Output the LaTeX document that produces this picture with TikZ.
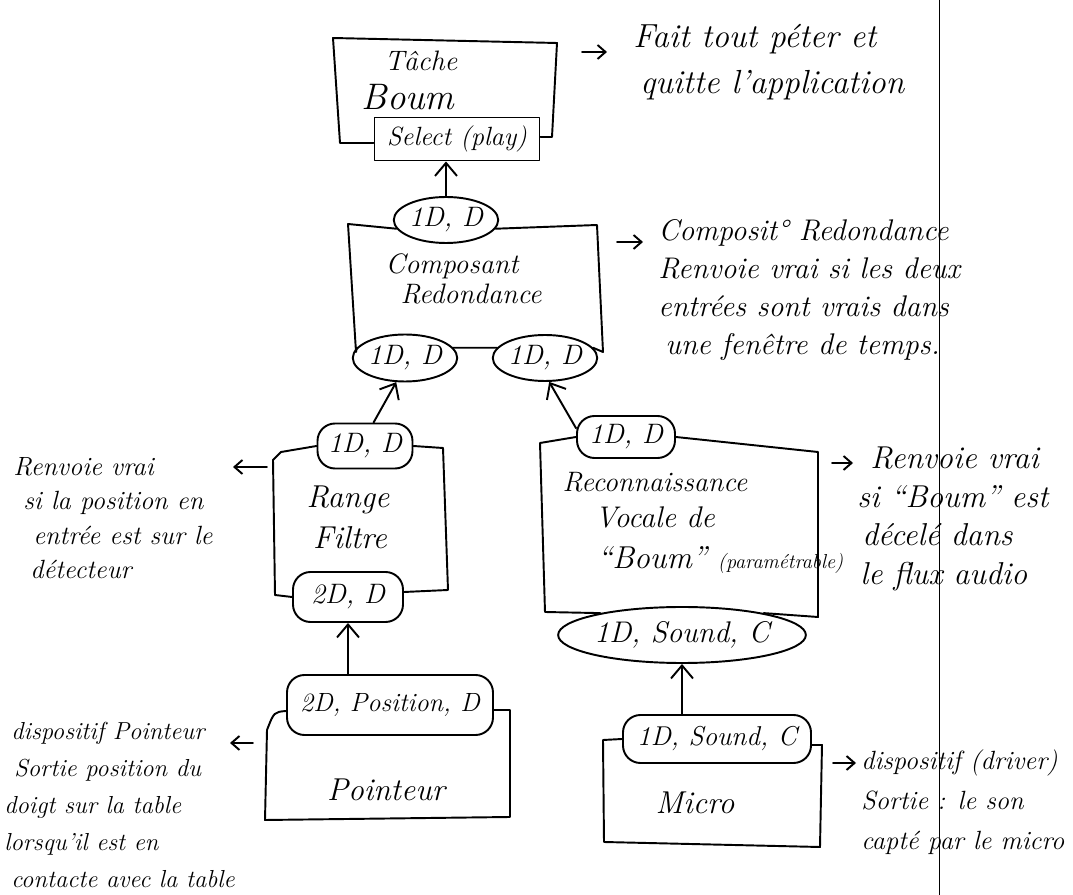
\documentclass[tikz,border=0pt]{standalone}
\usetikzlibrary{shapes.geometric,arrows.meta,calc}
\newcommand\hwf[2]{\fontsize{#1}{#2}\selectfont\itshape}
\begin{document}
\begin{tikzpicture}[x=0.2mm,y=-0.2mm,
  hw/.style={line width=1.1pt,line join=round,line cap=round},
  eport/.style={draw,hw,ellipse,inner sep=0pt,font=\hwf{16}{19}},
  sport/.style={draw,hw,rectangle,rounded corners=3.5mm,inner sep=0pt,font=\hwf{16}{19}},
  conn/.style={hw,-{Straight Barb[length=2.6mm,width=4.4mm]}},
  sconn/.style={hw,-{Straight Barb[length=1.6mm,width=2.8mm]}},
  txt/.style={inner sep=0pt,align=center},
  note/.style={inner sep=0pt,align=left,anchor=west},
]
\useasboundingbox (0,0) rectangle (1073,895);

% page edge line
\draw[line width=0.5pt] (939,0) -- (939,895);

% ---------------- Tache Boum
\node[draw,hw,rectangle,minimum width=33mm,minimum height=8.6mm,inner sep=0pt,font=\hwf{15}{18}] (sel) at (457,139) {Select (play)};
\node[txt,font=\hwf{16}{19}] (tache) at (421,61) {Tâche};
\node[txt,font=\hwf{21}{25}] (boum) at (408,97) {Boum};
\draw[hw] ($(sel.west)+(0,4)$) -- (340,143) -- (333,38) -- (557,43) -- (552,137) -- ($(sel.east)+(0,-2)$);

\coordinate (a1s) at (582,52);
\coordinate (a1e) at (607,52);
\draw[sconn] (a1s) -- (a1e);
\node[note,font=\hwf{19}{26}] (n1) at (633,62) {Fait tout péter et\\\hspace*{1.4mm}quitte l'application};

% ---------------- Composant Redondance
\node[eport,minimum width=18.6mm,minimum height=9.2mm] (cp) at (446,220) {1D, D};
\node[eport,minimum width=18.8mm,minimum height=9.4mm] (cl) at (405,358) {1D, D};
\node[eport,minimum width=17mm,minimum height=9.2mm] (cr) at (545,358) {1D, D};
\node[txt,font=\hwf{16}{19}] (compo) at (452,266) {Composant};
\node[txt,font=\hwf{16}{19}] (redon) at (471,294) {Redondance};
\draw[hw] (cp.190) -- (348,224) -- (356,352) -- (cl.168);
\draw[hw] (cl.12) -- (cr.168);
\draw[hw] (cr.12) -- (603,352) -- (597,225) -- (cp.-10);
\draw[conn] (cp.north) -- (cp.north |- sel.south);

\coordinate (a2s) at (617,242);
\coordinate (a2e) at (643,242);
\draw[sconn] (a2s) -- (a2e);
\node[note,font=\hwf{17}{21.5}] (n2) at (658,290) {Composit° Redondance\\Renvoie vrai si les deux\\entrées sont vrais dans\\\hspace*{1.4mm}une fenêtre de temps.};

% ---------------- Range Filtre
\node[sport,minimum width=19mm,minimum height=9mm] (rt) at (365,446) {1D, D};
\node[sport,minimum width=22mm,minimum height=10mm] (rb) at (348,597) {2D, D};
\node[txt,font=\hwf{18}{21}] (range) at (348,500) {Range};
\node[txt,font=\hwf{18}{21}] (filtre) at (350,538) {Filtre};
\draw[hw] (rt.west) -- (281,452) -- (273,460) -- (275,595) -- (rb.west);
\draw[hw] (rt.east) -- (443,448) -- (448,590) -- ($(rb.east)+(0,-5)$);
\draw[conn] (rt.70) -- (cl.250);

\coordinate (a4s) at (267,467);
\coordinate (a4e) at (233,467);
\draw[sconn] (a4s) -- (a4e);
\node[note,font=\hwf{15}{19.5}] (n4) at (13,518) {Renvoie vrai\\\hspace*{2mm}si la position en\\\hspace*{4mm}entrée est sur le\\\hspace*{3.4mm}détecteur};

% ---------------- Reconnaissance vocale
\node[sport,minimum width=19.6mm,minimum height=8.4mm] (rv) at (626,437) {1D, D};
\node[eport,minimum width=43.8mm,minimum height=11.2mm,font=\hwf{17}{20}] (rs) at (682,635) {1D, Sound, C};
\node[txt,font=\hwf{16}{19}] (reco) at (655,482) {Reconnaissance};
\node[txt,font=\hwf{17}{20}] (vocale) at (655,517) {Vocale de};
\node[note,font=\hwf{18}{21}] (boumq) at (597,560) {“Boum” {\hwf{11.5}{13}(paramétrable)}};
\draw[hw] (rv.west) -- (540,443) -- (545,612) -- (rs.165);
\draw[hw] (rv.east) -- (818,452) -- (818,617) -- (rs.15);
\draw[conn] (rv.170) -- (cr.280);

\coordinate (a3s) at (832,463);
\coordinate (a3e) at (853,463);
\draw[sconn] (a3s) -- (a3e);
\node[note,font=\hwf{18}{22}] (n3) at (857,519) {\hspace*{2.6mm}Renvoie vrai\\si “Boum” est\\\hspace*{1mm}décelé dans\\\hspace*{0.6mm}le flux audio};

% ---------------- Pointeur
\node[sport,minimum width=41.2mm,minimum height=12mm,font=\hwf{15}{18}] (pp) at (390,705) {2D, Position, D};
\node[txt,font=\hwf{18}{21}] (pointeur) at (386,790) {Pointeur};
\draw[hw] ($(pp.west)+(0,6)$) .. controls (274,712) .. (267,730) -- (265,820) -- (510,817) -- (510,710) -- ($(pp.east)+(0,5)$);
\draw[conn] (rb.south |- pp.north) -- (rb.south);

\coordinate (a5s) at (253,743);
\coordinate (a5e) at (230,743);
\draw[sconn] (a5s) -- (a5e);
\node[note,font=\hwf{14}{21}] (n5) at (4,805) {\hspace*{1.4mm}dispositif Pointeur\\\hspace*{2mm}Sortie position du\\doigt sur la table\\lorsqu'il est en\\\hspace*{1.4mm}contacte avec la table};

% ---------------- Micro
\node[sport,minimum width=37.6mm,minimum height=9.6mm,font=\hwf{15.5}{19}] (mp) at (717,739) {1D, Sound, C};
\node[txt,font=\hwf{18}{21}] (micro) at (695,803) {Micro};
\draw[hw] (mp.west) -- (603,740) -- (604,842) -- (820,847) -- (822,745) -- ($(mp.east)+(0,6)$);
\draw[conn] (rs.south |- mp.north) -- (rs.south);

\coordinate (a6s) at (833,763);
\coordinate (a6e) at (856,763);
\draw[sconn] (a6s) -- (a6e);
\node[note,font=\hwf{15}{22.7}] (n6) at (861,802) {dispositif (driver)\\Sortie : le son\\capté par le micro};
\end{tikzpicture}
\end{document}
